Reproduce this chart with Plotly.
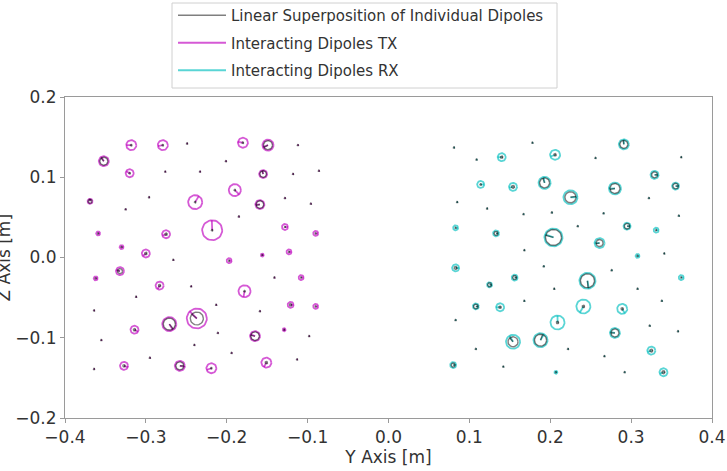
import numpy as np
import plotly.graph_objects as go

# ---------------- data (positions in m, amplitudes in relative units, phases in deg) -------------
TX_Y = [-0.318, -0.279, -0.249, -0.180, -0.149, -0.112, -0.352, -0.201, -0.320, -0.276,
        -0.233, -0.155, -0.118, -0.086, -0.190, -0.369, -0.296, -0.239, -0.325, -0.159,
        -0.128, -0.096, -0.185, -0.359, -0.275, -0.218, -0.128, -0.090, -0.330, -0.300,
        -0.266, -0.197, -0.156, -0.123, -0.332, -0.362, -0.141, -0.108, -0.283, -0.244,
        -0.178, -0.312, -0.213, -0.121, -0.090, -0.364, -0.159, -0.237, -0.271, -0.314,
        -0.211, -0.129, -0.165, -0.355, -0.098, -0.240, -0.295, -0.194, -0.113, -0.364,
        -0.327, -0.258, -0.219, -0.151]
TX_Z = [0.140, 0.140, 0.142, 0.143, 0.140, 0.140, 0.120, 0.120, 0.105, 0.107,
        0.107, 0.104, 0.104, 0.108, 0.084, 0.070, 0.075, 0.069, 0.060, 0.066,
        0.074, 0.067, 0.051, 0.030, 0.029, 0.034, 0.038, 0.030, 0.013, 0.005,
        -0.003, -0.004, 0.003, 0.007, -0.017, -0.026, -0.025, -0.025, -0.035, -0.036,
        -0.042, -0.049, -0.059, -0.059, -0.061, -0.066, -0.067, -0.076, -0.083, -0.090,
        -0.094, -0.090, -0.098, -0.103, -0.098, -0.109, -0.125, -0.119, -0.127, -0.139,
        -0.135, -0.135, -0.138, -0.131]
TX_AMP_INT = [5, 5, 0.3, 5, 5.5, 0.3, 5, 0.3, 4, 0.3,
              0.3, 4, 0.3, 0.3, 6, 2.5, 0.3, 7, 0.3, 4.5,
              0.3, 0.3, 0.3, 2, 4, 10, 3, 2.5, 2, 4,
              0.3, 2.5, 1.5, 2.5, 4, 2, 0.3, 2.5, 4, 0.3,
              6, 0.3, 0.3, 3, 2.5, 0.3, 0.3, 10, 7, 4,
              0.3, 1.5, 5, 0.3, 0.3, 0.3, 0.3, 0.3, 0.3, 0.3,
              4, 5, 5, 5]
TX_AMP_LIN = [0.8, 0.8, 0.7, 0.8, 4.5, 0.7, 4, 0.7, 0.8, 0.7,
              0.7, 3.3, 0.7, 0.7, 0.8, 2, 0.7, 0.8, 0.7, 3.8,
              0.7, 0.7, 0.7, 0.6, 1.2, 0.8, 0.6, 0.6, 0.6, 1.2,
              0.7, 0.6, 0.6, 0.6, 2.5, 0.6, 0.7, 0.6, 1.2, 0.7,
              0.8, 0.7, 0.7, 1.2, 0.6, 0.7, 0.7, 6.5, 6, 1.2,
              0.7, 0.6, 4.3, 0.7, 0.7, 0.7, 0.7, 0.7, 0.7, 0.7,
              1.2, 4, 0.8, 1.2]
TX_PH_INT = [180, 190, 0, 170, 200, 0, 120, 0, 150, 0,
             0, 100, 0, 0, -45, 90, 0, 60, 0, 180,
             0, 0, 0, 0, 200, 92, 0, 0, 0, 220,
             0, 0, 0, 0, 160, 0, 0, 0, 240, 0,
             -100, 0, 0, 0, 0, 0, 0, 135, -60, -30,
             0, 0, 160, 0, 0, 0, 0, 0, 0, 0,
             -20, -10, 200, -120]
TX_PH_LIN = [0, 0, 0, 0, 210, 0, 130, 0, 0, 0,
             0, 110, 0, 0, 0, 90, 0, 0, 0, 190,
             0, 0, 0, 0, 0, 0, 0, 0, 0, 0,
             0, 0, 0, 0, 170, 0, 0, 0, 0, 0,
             0, 0, 0, 0, 0, 0, 0, 140, -50, 0,
             0, 0, 170, 0, 0, 0, 0, 0, 0, 0,
             0, 0, 0, 0]

RX_Y = [0.081, 0.178, 0.291, 0.109, 0.140, 0.206, 0.256, 0.362, 0.114, 0.154,
        0.193, 0.225, 0.280, 0.329, 0.355, 0.085, 0.122, 0.167, 0.202, 0.266,
        0.322, 0.359, 0.083, 0.133, 0.204, 0.234, 0.295, 0.331, 0.261, 0.168,
        0.308, 0.341, 0.083, 0.192, 0.125, 0.156, 0.246, 0.276, 0.362, 0.205,
        0.308, 0.108, 0.138, 0.168, 0.241, 0.289, 0.338, 0.083, 0.209, 0.323,
        0.358, 0.280, 0.154, 0.188, 0.108, 0.222, 0.325, 0.267, 0.080, 0.142,
        0.207, 0.292, 0.340]
RX_Z = [0.137, 0.143, 0.141, 0.122, 0.125, 0.128, 0.124, 0.125, 0.091, 0.088,
        0.093, 0.075, 0.086, 0.103, 0.089, 0.069, 0.061, 0.054, 0.056, 0.055,
        0.074, 0.052, 0.037, 0.030, 0.025, 0.039, 0.039, 0.034, 0.018, 0.009,
        0.002, 0.005, -0.013, -0.011, -0.034, -0.025, -0.029, -0.016, -0.025, -0.039,
        -0.039, -0.061, -0.062, -0.054, -0.061, -0.064, -0.054, -0.078, -0.081, -0.085,
        -0.092, -0.094, -0.105, -0.103, -0.114, -0.114, -0.116, -0.123, -0.134, -0.136,
        -0.143, -0.143, -0.143]
RX_AMP_INT = [0.3, 0.3, 5, 0.3, 4, 5, 0.3, 0.3, 3.5, 4,
              6, 7, 6, 4, 3.5, 0.3, 0.3, 0.3, 0.3, 0.3,
              0.3, 0.3, 2.5, 3, 9, 0.3, 3.5, 2.5, 5, 0.3,
              2, 0.3, 3.5, 0.3, 2.5, 3, 8, 0.3, 2.5, 0.3,
              0.3, 3, 4, 0.3, 7, 5, 0.3, 0.3, 7, 0.3,
              0.3, 5, 7, 7, 0.3, 0.3, 4, 0.3, 3, 0.3,
              1.5, 0.3, 4]
RX_AMP_LIN = [0.7, 0.7, 4, 0.7, 1.2, 1.2, 0.7, 0.7, 0.8, 1.5,
              5, 5.5, 5, 3, 2.8, 0.7, 0.7, 0.7, 0.7, 0.7,
              0.7, 0.7, 0.6, 2, 8, 0.7, 2.8, 0.6, 3.5, 0.7,
              0.6, 0.7, 1.5, 0.7, 2, 2, 7, 0.7, 0.6, 0.7,
              0.7, 2.3, 1.2, 0.7, 1.2, 1.2, 0.7, 0.7, 1.2, 0.7,
              0.7, 4, 5, 6, 0.7, 0.7, 1.5, 0.7, 2, 0.7,
              0.6, 0.7, 1.5]
RX_PH_INT = [0, 0, 90, 0, 180, 200, 0, 0, 0, 190,
             100, 0, 180, 0, 0, 0, 0, 0, 0, 0,
             0, 0, 0, 0, 160, 0, 0, 0, 180, 0,
             0, 0, 0, 0, 0, 0, -80, 0, 0, 0,
             0, 0, 180, 0, -120, -60, 0, 0, 90, 0,
             0, 170, 120, 60, 0, 0, 200, 0, 0, 0,
             0, 0, 200]
RX_PH_LIN = [0, 0, 100, 0, 0, 0, 0, 0, 0, 0,
             110, 10, 190, 0, 0, 0, 0, 0, 0, 0,
             0, 0, 0, 0, 165, 0, 0, 0, 190, 0,
             0, 0, 0, 0, 0, 0, -85, 0, 0, 0,
             0, 0, 0, 0, 0, 0, 0, 0, 0, 0,
             0, 180, 130, 70, 0, 0, 0, 0, 0, 0,
             0, 0, 0]

X_TICKS = [-0.4, -0.3, -0.2, -0.1, 0.0, 0.1, 0.2, 0.3, 0.4]
Y_TICKS = [-0.2, -0.1, 0.0, 0.1, 0.2]

AMP_SCALE = 1.0 / 805.0  # metres per amplitude unit


def dipole_paths(ys, zs, amps, phases):
    th = np.linspace(0, 2 * np.pi, 41)
    px, pz = [], []
    for y, z, a, p in zip(ys, zs, amps, phases):
        r = a * AMP_SCALE
        px += list(y + r * np.cos(th)) + [None]
        pz += list(z + r * np.sin(th)) + [None]
        ang = np.deg2rad(p)
        px += [y, y + r * np.cos(ang), None]
        pz += [z, z + r * np.sin(ang), None]
    return px, pz


MAG = "rgba(191,0,191,0.65)"
CYA = "rgba(0,191,191,0.65)"
GRY = "rgba(0,0,0,0.5)"

fig = go.Figure()

tx_x, tx_z = dipole_paths(TX_Y, TX_Z, TX_AMP_INT, TX_PH_INT)
rx_x, rx_z = dipole_paths(RX_Y, RX_Z, RX_AMP_INT, RX_PH_INT)
gl_x1, gl_z1 = dipole_paths(TX_Y, TX_Z, TX_AMP_LIN, TX_PH_LIN)
gl_x2, gl_z2 = dipole_paths(RX_Y, RX_Z, RX_AMP_LIN, RX_PH_LIN)

fig.add_trace(go.Scatter(x=tx_x, y=tx_z, mode="lines", line=dict(color=MAG, width=1.8),
                         name="Interacting Dipoles TX", legendrank=2, legendgroup="b",
                         hoverinfo="skip"))
fig.add_trace(go.Scatter(x=rx_x, y=rx_z, mode="lines", line=dict(color=CYA, width=1.8),
                         name="Interacting Dipoles RX", legendrank=3, legendgroup="c",
                         hoverinfo="skip"))
fig.add_trace(go.Scatter(x=gl_x1 + gl_x2, y=gl_z1 + gl_z2, mode="lines",
                         line=dict(color=GRY, width=1.4),
                         name="Linear Superposition of Individual Dipoles", legendrank=1,
                         legendgroup="a", hoverinfo="skip"))

FONT = "DejaVu Sans"
axcol = "#9a9a9a"
TXT = "#333333"

# plot area in pixels: x 65..712, y 97..418
def px_x(p):
    return (p - 65) / 647


def px_y(p):
    return (418 - p) / 321


fig.update_layout(
    width=727, height=471,
    margin=dict(l=65, r=15, t=97, b=53, autoexpand=False),
    paper_bgcolor="white", plot_bgcolor="white",
    font=dict(family=FONT, size=17, color=TXT),
    showlegend=True,
    legend=dict(x=px_x(173), y=px_y(-1), xanchor="left", yanchor="top",
                bgcolor="rgba(0,0,0,0)", borderwidth=0,
                font=dict(family=FONT, size=15, color=TXT),
                tracegroupgap=5, traceorder="grouped", itemwidth=48),
    shapes=[dict(type="rect", xref="paper", yref="paper",
                 x0=px_x(172), x1=px_x(557), y0=px_y(88), y1=px_y(3),
                 line=dict(color="#d0d0d0", width=1), fillcolor="white", layer="above")],
    xaxis=dict(range=[-0.4, 0.4], tickvals=X_TICKS, tickformat=".1f",
               showgrid=False, zeroline=False, showline=True, mirror=True,
               linecolor=axcol, linewidth=1, ticks="outside", ticklen=4, tickcolor=axcol,
               tickfont=dict(size=17),
               title=dict(text="Y Axis [m]", standoff=2, font=dict(size=17))),
    yaxis=dict(range=[-0.2, 0.2], tickvals=Y_TICKS, tickformat=".1f",
               showgrid=False, zeroline=False, showline=True, mirror=True,
               linecolor=axcol, linewidth=1, ticks="outside", ticklen=4, tickcolor=axcol,
               tickfont=dict(size=17)),
    annotations=[dict(text="Z Axis [m]", textangle=-90, xref="paper", yref="paper",
                      x=px_x(3), y=0.5, xanchor="center", yanchor="middle",
                      showarrow=False, font=dict(size=17))],
)

fig.write_html("out.html")
